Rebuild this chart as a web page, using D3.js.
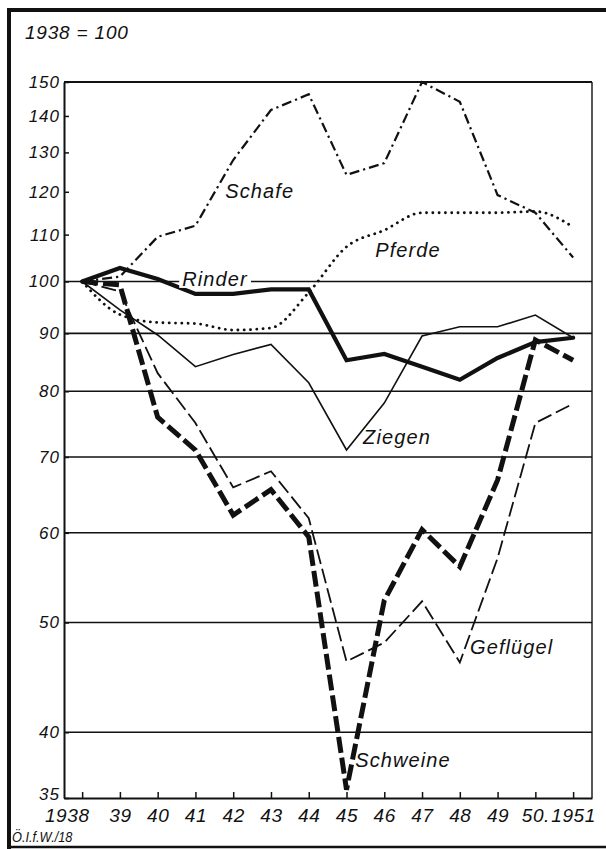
<!DOCTYPE html>
<html>
<head>
<meta charset="utf-8">
<script src="https://cdn.jsdelivr.net/npm/d3@7"></script>
<style>
  html, body { margin: 0; padding: 0; background: #fff; }
  svg { display: block; }
  text { font-family: "Liberation Sans", Arial, sans-serif; font-style: italic; fill: #111; }
</style>
</head>
<body>
<svg id="chart" width="606" height="849"></svg>
<script>
// ---------- data ----------
const years = [1938, 1939, 1940, 1941, 1942, 1943, 1944, 1945, 1946, 1947, 1948, 1949, 1950, 1951];
const yearLabels = ["1938", "39", "40", "41", "42", "43", "44", "45", "46", "47", "48", "49", "50.", "1951"];
const schafe    = [100, 101, 109.5, 112, 128, 141.7, 146.3, 124.2, 127.2, 150, 144.1, 119.2, 115, 105];
const pferde    = [100, 93.5, 92, 91.8, 90.6, 91, 97.8, 107.3, 111, 115, 115, 115, 115.3, 111.7];
const rinder    = [100, 102.8, 100.5, 97.5, 97.5, 98.4, 98.4, 85.2, 86.3, 84.1, 81.9, 85.6, 88.4, 89.2];
const ziegen    = [100, 94.4, 89.7, 84.1, 86.2, 88, 81.4, 71, 78.1, 89.5, 91.2, 91.2, 93.4, 89.2];
const schweine  = [100, 99.3, 75.9, 71, 62.2, 65.5, 59.5, 35.6, 52.3, 60.4, 56, 66.8, 88.8, 85.2];
const gefluegel = [100, 98, 83, 75, 65.8, 68, 61.8, 46.2, 48, 52.2, 46.1, 57, 75, 78];
const yTickValues = [35, 40, 50, 60, 70, 80, 90, 100, 110, 120, 130, 140, 150];
const gridValues  = [40, 50, 60, 70, 80, 90, 100];
const baseLabel = "1938 = 100";
const sourceLabel = "Ö.I.f.W./18";

// ---------- layout ----------
const svg = d3.select("#chart");
const L = 64, R = 592, T = 82, B = 798;
const x = d3.scaleLinear().domain([1937.52, 1951.5]).range([L, R]);
const y = d3.scaleLog().domain([35, 150]).range([B, T]);

// outer frame
svg.append("line").attr("x1", 9).attr("x2", 9).attr("y1", 8).attr("y2", 849)
  .attr("stroke", "#111").attr("stroke-width", 4);
svg.append("line").attr("x1", 7).attr("x2", 606).attr("y1", 10).attr("y2", 10)
  .attr("stroke", "#111").attr("stroke-width", 4);
svg.append("line").attr("x1", 7).attr("x2", 606).attr("y1", 847).attr("y2", 847)
  .attr("stroke", "#111").attr("stroke-width", 2.5);

// base label
svg.append("text").attr("x", 25).attr("y", 39).attr("font-size", 19)
  .attr("letter-spacing", 0.8).text(baseLabel);

// gridlines
svg.append("g").selectAll("line").data(gridValues).join("line")
  .attr("x1", L).attr("x2", R)
  .attr("y1", d => y(d)).attr("y2", d => y(d))
  .attr("stroke", "#111").attr("stroke-width", 1.6);

// plot border (top, right)
svg.append("line").attr("x1", L).attr("x2", R).attr("y1", T).attr("y2", T)
  .attr("stroke", "#111").attr("stroke-width", 1.8);
svg.append("line").attr("x1", R).attr("x2", R).attr("y1", T).attr("y2", B)
  .attr("stroke", "#111").attr("stroke-width", 1.4);

// y axis
const yAxis = d3.axisLeft(y).tickValues(yTickValues).tickFormat(d => d)
  .tickSizeInner(-5).tickSizeOuter(0).tickPadding(4);
const gy = svg.append("g").attr("transform", `translate(${L},0)`).call(yAxis);
gy.select(".domain").attr("stroke", "#111").attr("stroke-width", 2);
gy.selectAll(".tick line").attr("stroke", "#111").attr("stroke-width", 1.5);
gy.selectAll(".tick text").attr("font-size", 17).attr("letter-spacing", 1)
  .attr("font-family", null).style("font-family", "'Liberation Sans', Arial, sans-serif")
  .attr("fill", "#111");
gy.selectAll(".tick text").filter(d => d === 35).attr("y", -4);

// x axis
const xAxis = d3.axisBottom(x).tickValues(years).tickFormat((d, i) => yearLabels[i])
  .tickSizeInner(-6).tickSizeOuter(0).tickPadding(11);
const gx = svg.append("g").attr("transform", `translate(0,${B})`).call(xAxis);
gx.select(".domain").attr("stroke", "#111").attr("stroke-width", 2);
gx.selectAll(".tick line").attr("stroke", "#111").attr("stroke-width", 1.5);
gx.selectAll(".tick text").attr("font-size", 19).attr("letter-spacing", 0.6)
  .attr("font-family", null).style("font-family", "'Liberation Sans', Arial, sans-serif")
  .attr("fill", "#111");
gx.selectAll(".tick text").filter((d, i) => i === 0).attr("text-anchor", "end").attr("x", 7);

// source label
svg.append("text").attr("x", 12).attr("y", 842).attr("font-size", 15)
  .attr("transform", "translate(12,842) scale(0.85,1) translate(-12,-842)")
  .text(sourceLabel);

// ---------- series ----------
const series = [
  { name: "Schafe",   values: schafe,    width: 2.2, dash: "10,4,2.2,4", cap: "butt", curve: d3.curveLinear },
  { name: "Pferde",   values: pferde,    width: 2.8, dash: "0.1,6.2",    cap: "round", curve: d3.curveMonotoneX },
  { name: "Ziegen",   values: ziegen,    width: 1.6, dash: null,         cap: "butt", curve: d3.curveLinear },
  { name: "Geflügel", values: gefluegel, width: 1.8, dash: "15,5",       cap: "butt", curve: d3.curveLinear },
  { name: "Schweine", values: schweine,  width: 5,   dash: "16,5",       cap: "butt", curve: d3.curveLinear },
  { name: "Rinder",   values: rinder,    width: 4.2, dash: null,         cap: "round", curve: d3.curveLinear }
];

series.forEach(s => {
  const line = d3.line().x((d, i) => x(years[i])).y(d => y(d)).curve(s.curve);
  svg.append("path").datum(s.values)
    .attr("d", line)
    .attr("fill", "none")
    .attr("stroke", "#111")
    .attr("stroke-width", s.width)
    .attr("stroke-linejoin", "miter")
    .attr("stroke-linecap", s.cap)
    .attr("stroke-dasharray", s.dash);
});

// ---------- series labels ----------
const labels = [
  { text: "Schafe",   yr: 1941.79, v: 118.5, bg: false },
  { text: "Pferde",   yr: 1945.76, v: 105.1, bg: false },
  { text: "Rinder",   yr: 1940.65, v: 99.1,  bg: true },
  { text: "Ziegen",   yr: 1945.44, v: 71.9,  bg: false },
  { text: "Geflügel", yr: 1948.27, v: 46.9,  bg: false },
  { text: "Schweine", yr: 1945.23, v: 37.3,  bg: false }
];
labels.forEach(l => {
  const t = svg.append("text")
    .attr("x", x(l.yr)).attr("y", y(l.v))
    .attr("font-size", 20).attr("letter-spacing", 1.1)
    .text(l.text);
  if (l.bg) {
    const bb = t.node().getBBox();
    svg.insert("rect", () => t.node())
      .attr("x", bb.x - 3).attr("y", bb.y + 2)
      .attr("width", bb.width + 6).attr("height", bb.height - 4)
      .attr("fill", "#fff");
  }
});
</script>
</body>
</html>
